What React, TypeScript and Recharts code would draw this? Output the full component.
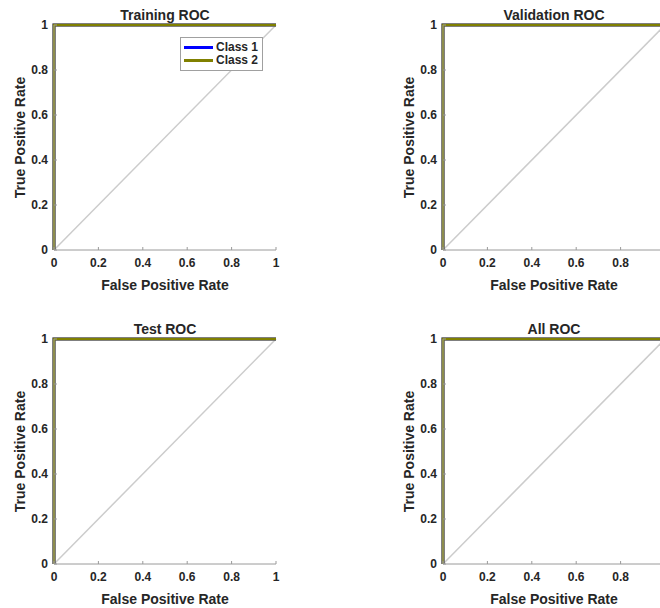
import React from "react";
import { ComposedChart, Line, XAxis, YAxis } from "recharts";

// ROC data (False Positive Rate vs True Positive Rate)
const fprValues = [0, 0, 1];
const tprClass1 = [0, 1, 1];
const tprClass2 = [0, 1, 1];
const diagX = [0, 1];
const diagY = [0, 1];
const axisTicks = [0, 0.2, 0.4, 0.6, 0.8, 1];
const rightPanelXTicks = [0, 0.2, 0.4, 0.6, 0.8];
const panelTitles = ["Training ROC", "Validation ROC", "Test ROC", "All ROC"];
const seriesNames = ["Class 1", "Class 2"];

const class1Data = fprValues.map((x, i) => ({ x, y: tprClass1[i] }));
const class2Data = fprValues.map((x, i) => ({ x, y: tprClass2[i] }));
const diagData = diagX.map((x, i) => ({ x, y: diagY[i] }));

const FONT = '"Liberation Sans", Arial, sans-serif';
const AXIS_COLOR = "#9a9a9a";
const TEXT_COLOR = "#262626";
const BLUE = "#0000ff";
const OLIVE = "#808000";
const seriesColors = [BLUE, OLIVE];

const CHART_W = 300;
const CHART_H = 300;
const MARGIN = { top: 25, right: 24, bottom: 0, left: 0 };
const Y_AXIS_W = 54;
const X_AXIS_H = 50;

function LegendBox() {
  return (
    <div
      style={{
        position: "absolute",
        left: 180,
        top: 37,
        background: "#fff",
        border: "1px solid #a0a0a0",
        padding: "3px 4px 3px 3px",
        fontFamily: FONT,
        fontWeight: "bold",
        fontSize: 12,
        color: TEXT_COLOR,
        lineHeight: "13px",
      }}
    >
      {seriesNames.map((name, i) => (
        <div key={name} style={{ display: "flex", alignItems: "center" }}>
          <span
            style={{
              display: "inline-block",
              width: 29,
              height: 3,
              background: seriesColors[i],
              marginRight: 3,
            }}
          />
          <span>{name}</span>
        </div>
      ))}
    </div>
  );
}

function RocPanel({
  title,
  left,
  top,
  showLegend,
  xTicks,
}: {
  title: string;
  left: number;
  top: number;
  showLegend: boolean;
  xTicks: number[];
}) {
  const plotCenter = Y_AXIS_W + (CHART_W - Y_AXIS_W - MARGIN.right) / 2;
  return (
    <div style={{ position: "absolute", left, top, width: CHART_W, height: CHART_H }}>
      <div
        style={{
          position: "absolute",
          left: plotCenter - 100,
          width: 200,
          top: 7,
          textAlign: "center",
          fontFamily: FONT,
          fontWeight: "bold",
          fontSize: 14,
          lineHeight: "16px",
          color: TEXT_COLOR,
        }}
      >
        {title}
      </div>
      <ComposedChart width={CHART_W} height={CHART_H} margin={MARGIN}>
        <XAxis
          type="number"
          dataKey="x"
          domain={[0, 1]}
          ticks={xTicks}
          height={X_AXIS_H}
          stroke={AXIS_COLOR}
          tickSize={-3}
          tickMargin={11}
          tick={{ fill: TEXT_COLOR, fontFamily: FONT, fontWeight: "bold", fontSize: 12 }}
          label={{
            value: "False Positive Rate",
            position: "insideBottom",
            offset: 10,
            style: { fill: TEXT_COLOR, fontFamily: FONT, fontWeight: "bold", fontSize: 14 },
          }}
        />
        <YAxis
          type="number"
          dataKey="y"
          domain={[0, 1]}
          ticks={axisTicks}
          width={Y_AXIS_W}
          stroke={AXIS_COLOR}
          tickSize={-3}
          tickMargin={9}
          tick={{ fill: TEXT_COLOR, fontFamily: FONT, fontWeight: "bold", fontSize: 12 }}
          label={{
            value: "True Positive Rate",
            angle: -90,
            position: "insideLeft",
            offset: 20,
            style: { textAnchor: "middle", fill: TEXT_COLOR, fontFamily: FONT, fontWeight: "bold", fontSize: 14 },
          }}
        />
        <Line
          data={diagData}
          dataKey="y"
          type="linear"
          stroke="#cccccc"
          strokeWidth={1.5}
          dot={false}
          activeDot={false}
          legendType="none"
          isAnimationActive={false}
        />
        <Line
          data={class1Data}
          dataKey="y"
          name={seriesNames[0]}
          type="linear"
          stroke={BLUE}
          strokeWidth={3}
          dot={false}
          activeDot={false}
          isAnimationActive={false}
        />
        <Line
          data={class2Data}
          dataKey="y"
          name={seriesNames[1]}
          type="linear"
          stroke={OLIVE}
          strokeWidth={3}
          dot={false}
          activeDot={false}
          isAnimationActive={false}
        />
      </ComposedChart>
      {showLegend && <LegendBox />}
    </div>
  );
}

export default function App() {
  const positions = [
    { left: 0, top: 0 },
    { left: 389, top: 0 },
    { left: 0, top: 314 },
    { left: 389, top: 314 },
  ];
  return (
    <div
      style={{
        position: "absolute",
        left: 0,
        top: 0,
        width: 660,
        height: 608,
        overflow: "hidden",
        background: "#fff",
      }}
    >
      {panelTitles.map((t, i) => (
        <RocPanel
          key={t}
          title={t}
          left={positions[i].left}
          top={positions[i].top}
          showLegend={i === 0}
          xTicks={positions[i].left > 0 ? rightPanelXTicks : axisTicks}
        />
      ))}
    </div>
  );
}
